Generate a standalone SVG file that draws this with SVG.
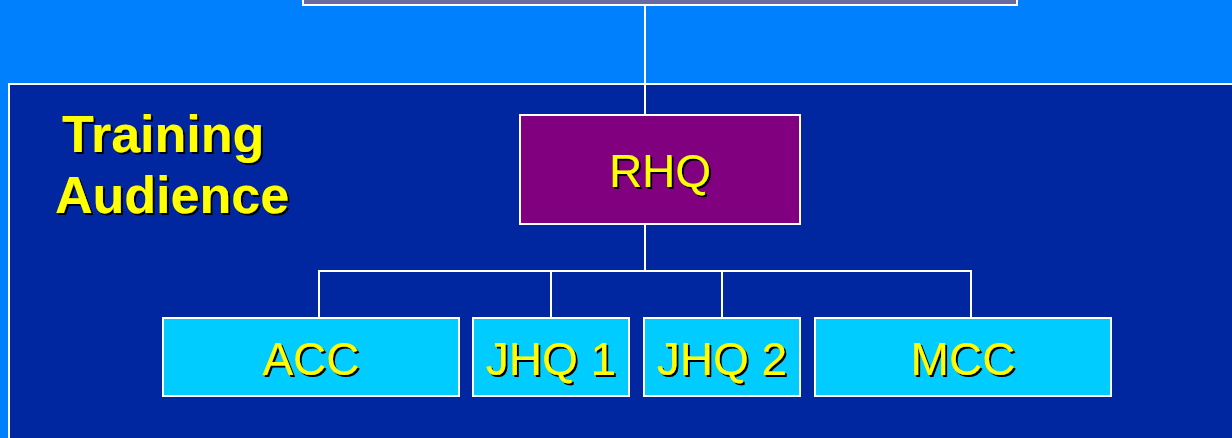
<svg xmlns="http://www.w3.org/2000/svg" width="1232" height="438" viewBox="0 0 1232 438">
<defs>
<filter id="sh" x="-10%" y="-10%" width="130%" height="140%">
<feDropShadow dx="2" dy="2" stdDeviation="0" flood-color="#000" flood-opacity="1"/>
</filter>
<style>
.box{stroke:#fff;stroke-width:2}
.lbl{font-family:"Liberation Sans",Arial,sans-serif;font-size:46px;fill:#ffff00;text-anchor:middle;filter:url(#sh)}
.title{font-family:"Liberation Sans",Arial,sans-serif;font-size:52px;font-weight:bold;fill:#ffff00;filter:url(#sh)}
.conn{stroke:#fff;stroke-width:2;fill:none}
</style>
</defs>
<rect x="0" y="0" width="1232" height="438" fill="#0080fc"/>
<g id="top-node"><rect class="box" x="303" y="-20" width="714" height="25" fill="#696a9f"/></g>
<g id="panel"><rect class="box" x="9" y="84" width="1240" height="370" fill="#0026a0"/></g>
<g id="title"><text class="title" x="62" y="152">Training</text><text class="title" x="55" y="213">Audience</text></g>
<g id="connectors">
<path class="conn" d="M645 5V115"/>
<path class="conn" d="M645 224V271"/>
<path class="conn" d="M319 318V271H971V318"/>
<path class="conn" d="M551 271V318"/>
<path class="conn" d="M722 271V318"/>
</g>
<g id="RHQ"><rect class="box" x="520" y="115" width="280" height="109" fill="#800080"/><text class="lbl" x="660" y="187">RHQ</text></g>
<g id="ACC"><rect class="box" x="163" y="318" width="296" height="78" fill="#00ccff"/><text class="lbl" x="311" y="375">ACC</text></g>
<g id="JHQ1"><rect class="box" x="473" y="318" width="156" height="78" fill="#00ccff"/><text class="lbl" x="551" y="375">JHQ 1</text></g>
<g id="JHQ2"><rect class="box" x="644" y="318" width="156" height="78" fill="#00ccff"/><text class="lbl" x="722" y="375">JHQ 2</text></g>
<g id="MCC"><rect class="box" x="815" y="318" width="296" height="78" fill="#00ccff"/><text class="lbl" x="963" y="375">MCC</text></g>
</svg>
